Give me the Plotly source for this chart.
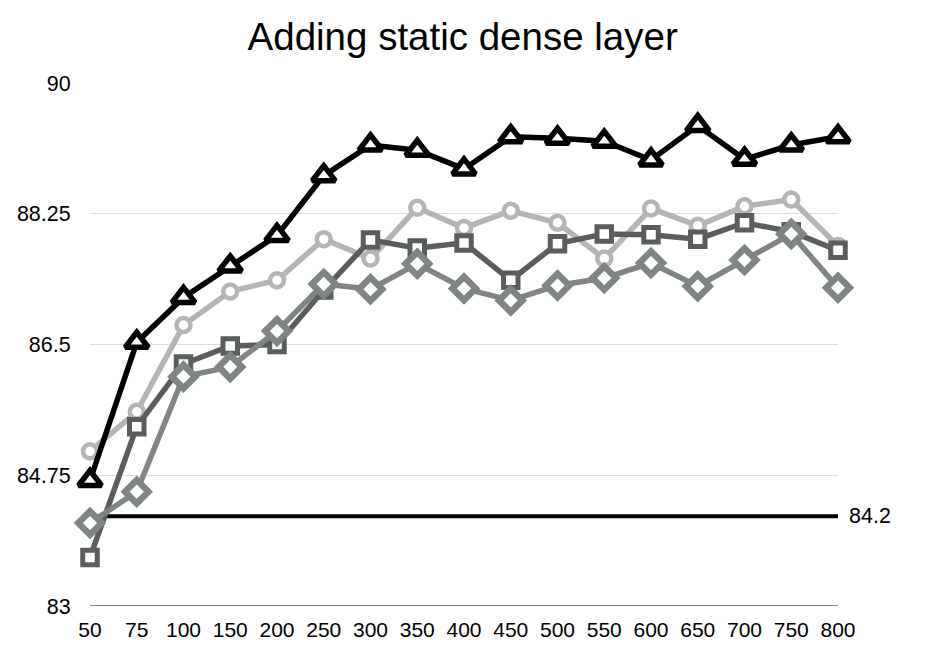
import plotly.graph_objects as go

categories = ["50", "75", "100", "150", "200", "250", "300", "350", "400",
              "450", "500", "550", "600", "650", "700", "750", "800"]

series_triangle = [84.68, 86.53, 87.13, 87.55, 87.96, 88.76, 89.17, 89.10, 88.85,
                   89.28, 89.26, 89.22, 88.97, 89.43, 88.98, 89.17, 89.28]
series_circle = [85.07, 85.60, 86.76, 87.21, 87.36, 87.91, 87.65, 88.33, 88.06,
                 88.29, 88.13, 87.65, 88.32, 88.09, 88.35, 88.44, 87.82]
series_square = [83.65, 85.40, 86.24, 86.48, 86.50, 87.23, 87.90, 87.79, 87.86,
                 87.36, 87.85, 87.98, 87.97, 87.91, 88.13, 88.01, 87.76]
series_diamond = [84.11, 84.53, 86.07, 86.20, 86.68, 87.31, 87.24, 87.58, 87.25,
                  87.09, 87.29, 87.39, 87.59, 87.28, 87.63, 87.98, 87.26]

baseline = 84.2
y_ticks = [83, 84.75, 86.5, 88.25, 90]
y_tick_labels = ["83", "84.75", "86.5", "88.25", "90"]

FONT = "Liberation Sans, Arial, Helvetica, sans-serif"

fig = go.Figure()

def add(y, color, symbol, size, lw, mlw):
    fig.add_trace(go.Scatter(
        x=categories, y=y, mode="lines+markers",
        line=dict(color=color, width=lw),
        marker=dict(symbol=symbol, size=size, color="white",
                    line=dict(color=color, width=mlw)),
        cliponaxis=False, showlegend=False, hoverinfo="x+y",
    ))

add(series_circle, "#b4b4b4", "circle", 14, 5.5, 4.5)
add(series_square, "#595e5c", "square", 14.5, 5.5, 5)
add(series_diamond, "#7e8582", "diamond", 18, 5.5, 6.5)
add(series_triangle, "#000000", "triangle-up", 20, 5.5, 5.5)

fig.add_shape(type="line", xref="paper", x0=0, x1=1, yref="y",
              y0=baseline, y1=baseline, line=dict(color="black", width=4),
              layer="below")
fig.add_annotation(xref="paper", x=1, y=baseline, yref="y", text=str(baseline),
                   showarrow=False, xanchor="left", xshift=9,
                   font=dict(family=FONT, size=21.5, color="black"))

fig.update_layout(
    width=926, height=668,
    margin=dict(l=82, r=96, t=75, b=70, autoexpand=False),
    paper_bgcolor="white", plot_bgcolor="white",
    title=dict(text="Adding static dense layer", x=0.491, xanchor="center",
               y=0.957, yanchor="middle",
               font=dict(family=FONT, size=38.5, color="black")),
    font=dict(family=FONT, size=21.5, color="black"),
    xaxis=dict(type="category", range=[0, len(categories) - 1],
               showgrid=False, zeroline=False, showline=False, automargin=False,
               ticks="outside", ticklen=5, tickcolor="rgba(0,0,0,0)",
               tickfont=dict(family=FONT, size=21)),
    yaxis=dict(range=[83, 90], tickvals=y_ticks, ticktext=y_tick_labels,
               showgrid=True, gridcolor="#dddddd", gridwidth=1, automargin=False,
               zeroline=False, showline=False,
               ticks="outside", ticklen=14, tickcolor="rgba(0,0,0,0)",
               tickfont=dict(family=FONT, size=21.5)),
)
fig.add_shape(type="line", xref="paper", x0=0, x1=1, yref="y", y0=83, y1=83,
              line=dict(color="black", width=1.2), layer="below")

fig.write_html("out.html")
